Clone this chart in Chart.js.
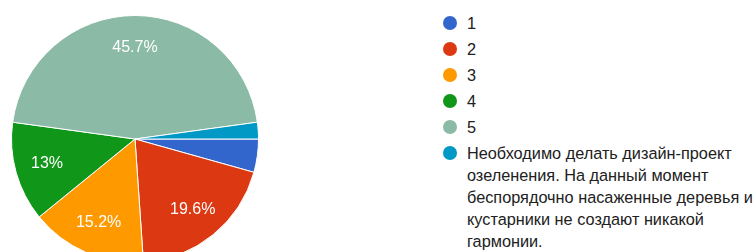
<!DOCTYPE html>
<html>
<head>
<meta charset="utf-8">
<script src="https://cdn.jsdelivr.net/npm/chart.js@4/dist/chart.umd.min.js"></script>
<style>
  html, body { margin: 0; padding: 0; background: #fff; width: 756px; height: 252px; overflow: hidden; }
  #pie { position: absolute; left: 0; top: 0; }
  #legend { position: absolute; left: 443px; top: 12px; margin: 0; padding: 0; list-style: none;
            font-family: "Liberation Sans", Arial, sans-serif; font-size: 16.3px; color: #212121; }
  #legend li { position: relative; padding-left: 24px; width: 302px; line-height: 22px; margin-bottom: 4px; }
  #legend li:last-child { margin-top: 3px; }
  #legend .dot { position: absolute; left: 0; top: 4px; width: 14px; height: 14px; border-radius: 50%; }
</style>
</head>
<body>
<canvas id="pie" width="270" height="278"></canvas>
<ul id="legend"></ul>
<script>
// categorias y respuestas
const labels = ['1', '2', '3', '4', '5',
  'Необходимо делать дизайн-проект озеленения. На данный момент беспорядочно насаженные деревья и кустарники не создают никакой гармонии.'];
const counts = [2, 9, 7, 6, 21, 1];
const colors = ['#3366cc', '#dc3912', '#ff9900', '#109618', '#8bbaa6', '#0099c6'];

// leyenda html (el texto largo tiene que partirse en lineas)
const ul = document.getElementById('legend');
labels.forEach(function (txt, i) {
  const li = document.createElement('li');
  const dot = document.createElement('span');
  dot.className = 'dot';
  dot.style.background = colors[i];
  li.appendChild(dot);
  li.appendChild(document.createTextNode(txt));
  ul.appendChild(li);
});

// porcentajes dentro de las porciones
const pctLabels = {
  id: 'pctLabels',
  afterDatasetsDraw(chart) {
    const c = chart.ctx;
    const total = counts.reduce((a, b) => a + b, 0);
    c.save();
    c.fillStyle = '#fff';
    c.font = '16px "Liberation Sans", Arial, sans-serif';
    c.textAlign = 'center';
    c.textBaseline = 'middle';
    chart.getDatasetMeta(0).data.forEach(function (arc, i) {
      const pct = counts[i] / total * 100;
      if (pct < 8) return;
      const mid = (arc.startAngle + arc.endAngle) / 2;
      const r = arc.outerRadius * 0.74;
      const txt = (Math.round(pct * 10) / 10) + '%';
      c.fillText(txt, arc.x + Math.cos(mid) * r, arc.y + Math.sin(mid) * r);
    });
    c.restore();
  }
};

new Chart(document.getElementById('pie'), {
  type: 'pie',
  data: {
    labels: labels,
    datasets: [{
      data: counts,
      backgroundColor: colors,
      borderColor: '#fff',
      borderWidth: 1
    }]
  },
  options: {
    responsive: false,
    animation: false,
    rotation: 90,
    layout: { padding: 11 },
    plugins: { legend: { display: false }, tooltip: { enabled: false } }
  },
  plugins: [pctLabels]
});
</script>
</body>
</html>
